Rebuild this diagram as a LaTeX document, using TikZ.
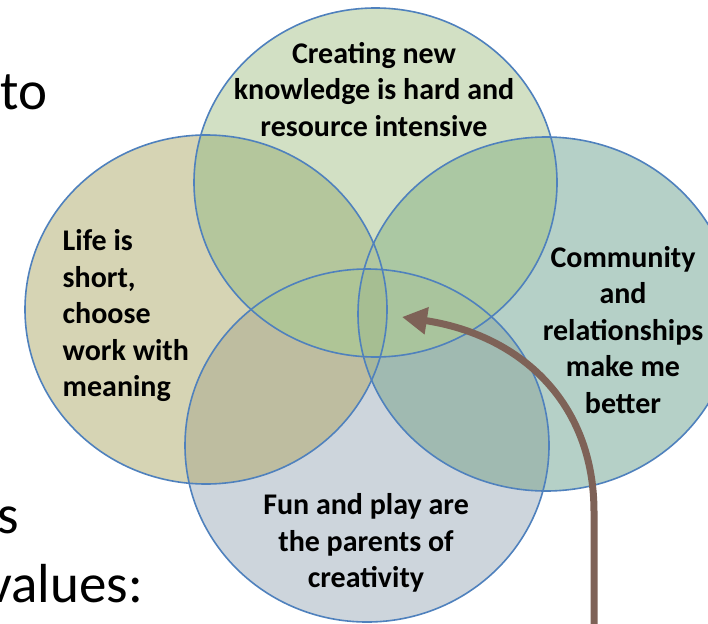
\documentclass[tikz,border=0pt]{standalone}
\usepackage{fontspec}
\setmainfont{Carlito}
\usetikzlibrary{arrows.meta}

% region colours of the four-set Venn diagram
\definecolor{cT}{HTML}{D2E0C4}
\definecolor{cL}{HTML}{D6D4B4}
\definecolor{cR}{HTML}{B5D0C7}
\definecolor{cB}{HTML}{CDD5DC}
\definecolor{cTL}{HTML}{B4C69C}
\definecolor{cTR}{HTML}{ABC8A3}
\definecolor{cTB}{HTML}{B0C697}
\definecolor{cBL}{HTML}{BEBDA0}
\definecolor{cBR}{HTML}{A0BAB1}
\definecolor{cLR}{HTML}{AEC39E}
\definecolor{cTBL}{HTML}{AFC596}
\definecolor{cTBR}{HTML}{A9C49D}
\definecolor{cLRT}{HTML}{B2C7A0}
\definecolor{cLRB}{HTML}{A6B79C}
\definecolor{cAll}{HTML}{A6BE92}
\definecolor{ringblue}{HTML}{4F81BD}
\definecolor{arrowbrown}{HTML}{7E6257}

\begin{document}
\begin{tikzpicture}[x=1pt,y=-1pt,
  ring/.style={draw=ringblue,line width=1.6pt},
  setlabel/.style={font=\bfseries\fontsize{30}{36.5}\selectfont,inner sep=0pt,text=black},
  slidetext/.style={font=\fontsize{55}{67}\selectfont,inner sep=0pt,text=black,anchor=base west},
  pointer/.style={draw=arrowbrown,line width=7pt,
    -{Triangle[length=25pt,width=26pt]}}]

\useasboundingbox (0,0) rectangle (708,623);
\clip (0,0) rectangle (708,623);
\fill[white] (0,0) rectangle (708,623);

% the four sets
\def\vTop{(375.5,182.5) ellipse [x radius=181.5, y radius=174.5]}
\def\vLeft{(206,309.5) ellipse [x radius=181, y radius=174.5]}
\def\vRight{(546,314) ellipse [x radius=188, y radius=177]}
\def\vBottom{(367,445.5) ellipse [x radius=182, y radius=176.5]}

% single sets
\fill[cL] \vLeft;
\fill[cT] \vTop;
\fill[cR] \vRight;
\fill[cB] \vBottom;

% pairwise overlaps
\begin{scope}
  \clip \vTop;
  \fill[cTL] \vLeft;
  \fill[cTR] \vRight;
  \fill[cTB] \vBottom;
\end{scope}
\begin{scope}
  \clip \vBottom;
  \fill[cBL] \vLeft;
  \fill[cBR] \vRight;
\end{scope}
\begin{scope}
  \clip \vLeft;
  \fill[cLR] \vRight;
\end{scope}

% triple overlaps
\begin{scope}
  \clip \vTop; \clip \vBottom;
  \fill[cTBL] \vLeft;
  \fill[cTBR] \vRight;
\end{scope}
\begin{scope}
  \clip \vLeft; \clip \vRight;
  \fill[cLRT] \vTop;
  \fill[cLRB] \vBottom;
\end{scope}

% common core
\begin{scope}
  \clip \vTop; \clip \vBottom; \clip \vLeft;
  \fill[cAll] \vRight;
\end{scope}

% outlines
\draw[ring] \vLeft;
\draw[ring] \vTop;
\draw[ring] \vRight;
\draw[ring] \vBottom;

% set labels
\node[setlabel,align=center] (create) at (374,89.5)
  {Creating new\\knowledge is hard and\\resource intensive};
\node[setlabel,align=left,anchor=west] (life) at (62.5,316)
  {Life is\\short,\\choose\\work with\\meaning};
\node[setlabel,align=center] (community) at (623,330)
  {Community\\and\\relationships\\make me\\better};
\node[setlabel,align=center] (fun) at (366,543)
  {Fun and play are\\the parents of\\creativity};

% fragments of the surrounding slide text
\node[slidetext] (fragto) at (0,110) {to};
\node[slidetext] (frags) at (-3,533) {s};
\node[slidetext] (fragvalues) at (-13,602) {values:};

% pointer into the common core
\coordinate (arrowfoot) at (594,630);
\coordinate (arrowtip) at (402,317);
\draw[pointer] (arrowfoot) -- ++(0,-118)
  .. controls +(0,-110) and (520,335) .. (arrowtip);

\end{tikzpicture}
\end{document}
